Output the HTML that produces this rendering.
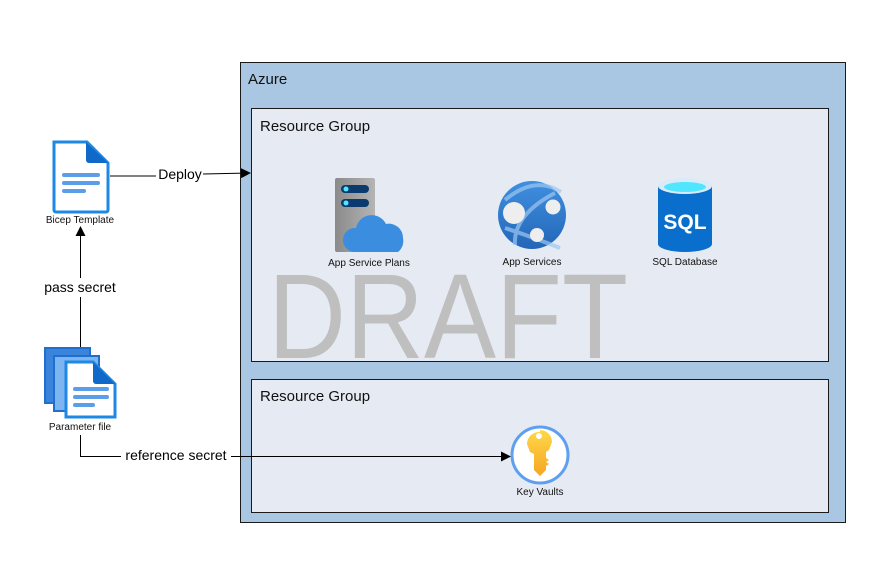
<!DOCTYPE html>
<html><head><meta charset="utf-8"><style>
html,body{margin:0;padding:0;background:#fff;width:889px;height:576px;overflow:hidden}
svg text{font-family:"Liberation Sans","DejaVu Sans",sans-serif}
</style></head><body>
<svg width="889" height="576" viewBox="0 0 889 576" xmlns="http://www.w3.org/2000/svg">
<defs>
<marker id="ar" markerWidth="10" markerHeight="10" refX="9" refY="5" orient="auto" markerUnits="userSpaceOnUse">
<path d="M0,0 L10,5 L0,10 z" fill="#000"/></marker>
<linearGradient id="srv" x1="0" x2="1"><stop offset="0" stop-color="#8a8a8a"/><stop offset="1" stop-color="#b5b5b5"/></linearGradient>
<linearGradient id="web" x1="0" y1="0" x2="0" y2="1"><stop offset="0" stop-color="#3f8fe0"/><stop offset="1" stop-color="#2466b8"/></linearGradient>
<linearGradient id="key" x1="0" y1="0" x2="0" y2="1"><stop offset="0" stop-color="#fed84a"/><stop offset="1" stop-color="#f6a623"/></linearGradient>
</defs>
<!-- Azure box -->
<rect x="240.5" y="62.5" width="605" height="460" fill="#a9c7e3" stroke="#1a1a1a" stroke-width="1"/>
<text x="248" y="84" font-size="15" fill="#111">Azure</text>
<rect x="251.5" y="108.5" width="577" height="253" fill="#e6ebf3" stroke="#1a1a1a" stroke-width="1"/>
<text x="260" y="131" font-size="15" fill="#111">Resource Group</text>
<rect x="251.5" y="379.5" width="577" height="133" fill="#e6ebf3" stroke="#1a1a1a" stroke-width="1"/>
<text x="260" y="401" font-size="15" fill="#111">Resource Group</text>
<!-- DRAFT -->
<text x="268" y="358" font-size="121" fill="#bfbfbf" textLength="360" lengthAdjust="spacingAndGlyphs">DRAFT</text>

<!-- App Service Plans -->
<rect x="335" y="178" width="40" height="74" rx="2" fill="url(#srv)"/>
<rect x="341" y="185" width="28" height="8" rx="4" fill="#0b3a6e"/>
<rect x="341" y="199" width="28" height="8" rx="4" fill="#0b3a6e"/>
<circle cx="346" cy="189" r="2.5" fill="#50e6ff"/><circle cx="346" cy="203" r="2.5" fill="#50e6ff"/>
<path d="M354,252 a12,12 0 0 1 2,-24 a16,16 0 0 1 30,-4 a14,14 0 0 1 17,14 a14,14 0 0 1 -5,14 z" fill="#3b8de0"/>
<text x="369" y="266" font-size="10" fill="#111" text-anchor="middle">App Service Plans</text>

<!-- App Services -->
<circle cx="532" cy="215" r="34" fill="url(#web)"/>
<path d="M505,200 q30,-25 56,-8 M515,245 q-2,-30 40,-52 M505,228 q30,10 55,20" stroke="#9cc7f0" stroke-width="4" fill="none" opacity="0.7"/>
<circle cx="514" cy="213" r="11" fill="#eee"/>
<circle cx="553" cy="207" r="7.5" fill="#eee"/>
<circle cx="537" cy="235" r="7" fill="#eee"/>
<text x="532" y="265" font-size="10" fill="#111" text-anchor="middle">App Services</text>

<!-- SQL -->
<path d="M658,186 v58 a27,8 0 0 0 54,0 v-58 z" fill="#0a6fcc"/>
<ellipse cx="685" cy="186" rx="27" ry="8" fill="#d9eaf9"/>
<ellipse cx="685" cy="187" rx="21" ry="5" fill="#50e6ff"/>
<text x="685" y="229" font-size="21" font-weight="bold" fill="#fff" text-anchor="middle">SQL</text>
<text x="685" y="265" font-size="10" fill="#111" text-anchor="middle">SQL Database</text>

<!-- Key Vault -->
<circle cx="540" cy="455" r="28" fill="#fff" stroke="#5ea0ef" stroke-width="3"/>
<path d="M540,430 a12,12 0 0 1 12,12 l-3,8 l-3,2 v6 l3,2 -3,2 3,2 -3,2 v4 l-6,6 l-6,-6 v-16 l-4,-2 l-3,-8 a12,12 0 0 1 13,-12 z" fill="url(#key)"/>
<circle cx="539" cy="436" r="3" fill="#fff"/>
<text x="540" y="495" font-size="10" fill="#111" text-anchor="middle">Key Vaults</text>

<!-- Bicep icon -->
<path d="M54,142 h33 l21,21 v47 a2,2 0 0 1 -2,2 h-50 a2,2 0 0 1 -2,-2 z" fill="#fff" stroke="#1e88e5" stroke-width="3"/>
<path d="M86,142 v18 a3,3 0 0 0 3,3 h19 z" fill="#1068c9"/>
<rect x="62" y="173" width="38" height="4" rx="2" fill="#5a9de8"/>
<rect x="62" y="181" width="38" height="4" rx="2" fill="#5a9de8"/>
<rect x="62" y="189" width="24" height="4" rx="2" fill="#5a9de8"/>
<text x="80" y="223" font-size="10" fill="#111" text-anchor="middle">Bicep Template</text>

<!-- Parameter file icon -->
<rect x="45" y="348" width="45" height="55" fill="#3a84dc" stroke="#1e6fd0" stroke-width="2"/>
<rect x="54" y="356" width="45" height="55" fill="#7db5f0" stroke="#1e6fd0" stroke-width="2"/>
<path d="M66,362 h27 l22,22 v33 h-49 z" fill="#fff" stroke="#1e88e5" stroke-width="3"/>
<path d="M93,362 v19 a3,3 0 0 0 3,3 h19 z" fill="#1068c9"/>
<rect x="73" y="387" width="36" height="4" rx="2" fill="#5a9de8"/>
<rect x="73" y="395" width="36" height="4" rx="2" fill="#5a9de8"/>
<rect x="73" y="403" width="22" height="4" rx="2" fill="#5a9de8"/>
<text x="80" y="430" font-size="10" fill="#111" text-anchor="middle">Parameter file</text>

<!-- connectors -->
<line x1="110" y1="176" x2="156" y2="176" stroke="#000" stroke-width="1"/>
<line x1="203" y1="174" x2="250" y2="173" stroke="#000" stroke-width="1" marker-end="url(#ar)"/>
<text x="180" y="179" font-size="14" fill="#000" text-anchor="middle">Deploy</text>

<line x1="80.5" y1="347" x2="80.5" y2="297" stroke="#000" stroke-width="1"/>
<line x1="80.5" y1="278" x2="80.5" y2="227" stroke="#000" stroke-width="1" marker-end="url(#ar)"/>
<text x="80" y="292" font-size="14" fill="#000" text-anchor="middle">pass secret</text>

<path d="M80.5,435 V456.5 H121" stroke="#000" stroke-width="1" fill="none"/>
<line x1="231" y1="456.5" x2="510" y2="456.5" stroke="#000" stroke-width="1" marker-end="url(#ar)"/>
<text x="176" y="460" font-size="14" fill="#000" text-anchor="middle">reference secret</text>
</svg>
</body></html>
